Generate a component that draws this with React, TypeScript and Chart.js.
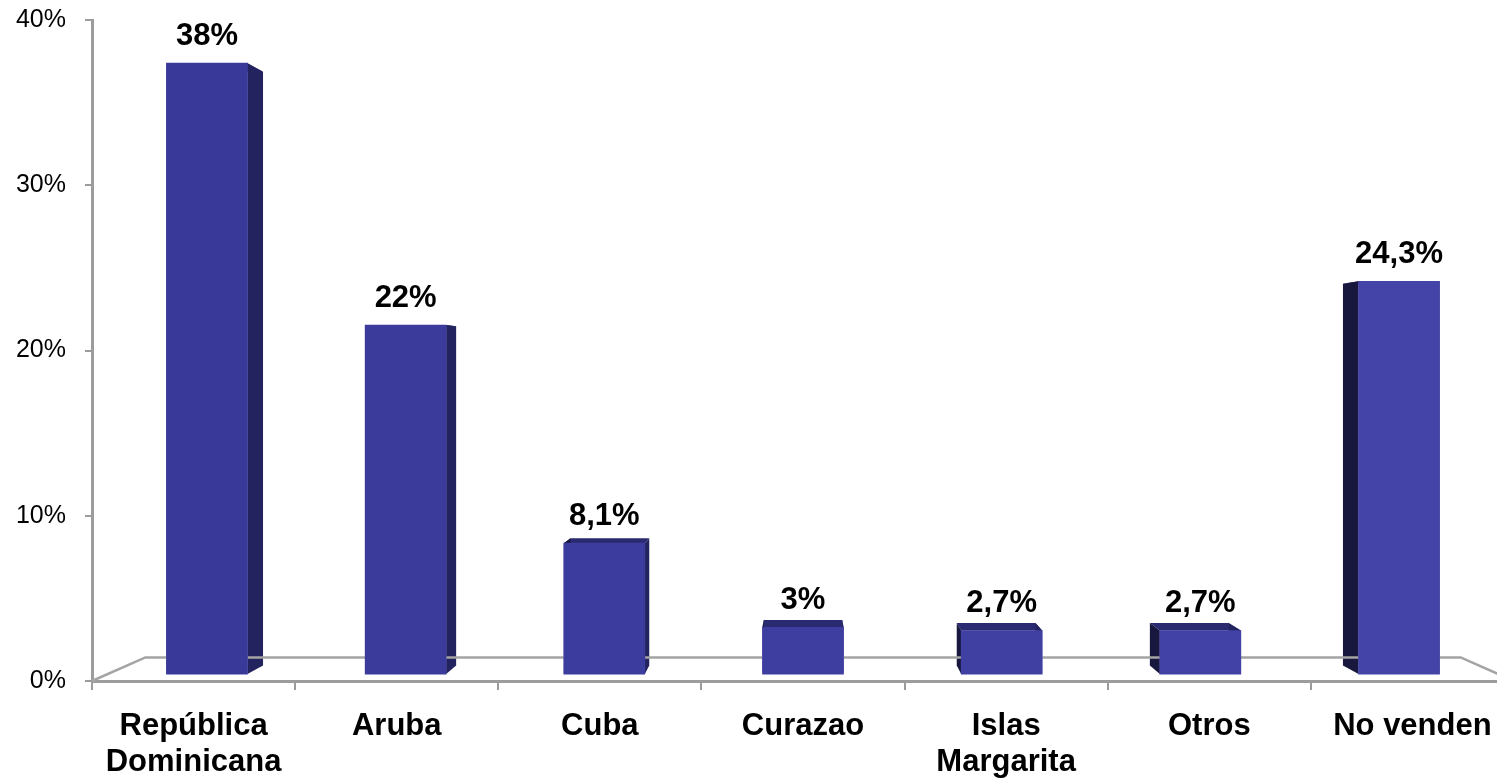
import React, { useEffect, useRef } from 'react';
import { Chart, registerables } from 'chart.js';

Chart.register(...registerables);

// ---------- data ----------
const CATEGORIES: (string | string[])[] = [
  ['República', 'Dominicana'],
  'Aruba',
  'Cuba',
  'Curazao',
  ['Islas', 'Margarita'],
  'Otros',
  'No venden',
];
const VALUES = [37.8, 21.6, 8.1, 2.9, 2.7, 2.7, 24.3];
const VALUE_LABELS = ['38%', '22%', '8,1%', '3%', '2,7%', '2,7%', '24,3%'];
const Y_TICK_LABELS = ['0%', '10%', '20%', '30%', '40%'];
const Y_MIN = 0;
const Y_MAX = 40;
const Y_STEP = 10;

// ---------- layout / style ----------
const FONT = "'Liberation Sans', Arial, Helvetica, sans-serif";
const W = 1530;
const H = 781;
const AREA_LEFT = 92;
const PAD_RIGHT = 16;
const AREA_TOP = 20;
const X_AXIS_H = 100;
const AREA_RIGHT = W - PAD_RIGHT;
const AREA_BOTTOM = H - X_AXIS_H;

// simple perspective: vanishing point at centre of plot, bars sit slightly behind axis plane
const VANISH_Y = 0.525;
const BAR_DEPTH = 0.022;
const BOX_DEPTH = 0.028;
const FLOOR_DEPTH = 0.075;

const AXIS_GREY = '#9c9c9c';

const VX = (AREA_LEFT + AREA_RIGHT) / 2;
const VY = AREA_TOP + VANISH_Y * (AREA_BOTTOM - AREA_TOP);
const N = CATEGORIES.length;
const SLOT = (AREA_RIGHT - AREA_LEFT) / N;
const k = 1 - BAR_DEPTH;

// hidden bar scales = front scales pulled toward vanishing point
const xbAt = (px: number) => (VX + (px - VX) / k - AREA_LEFT) / SLOT - 0.5;
const XB_MIN = xbAt(AREA_LEFT);
const XB_MAX = xbAt(AREA_RIGHT);
const ybAt = (py: number) => {
  const y0 = VY + (py - VY) / k;
  return Y_MIN + ((AREA_BOTTOM - y0) / (AREA_BOTTOM - AREA_TOP)) * (Y_MAX - Y_MIN);
};
const YB_MIN = ybAt(AREA_BOTTOM);
const YB_MAX = ybAt(AREA_TOP);

const frontColor = (i: number) => {
  const t = i / (N - 1);
  const c = (a: number, b: number) => Math.round(a + (b - a) * t);
  return `rgb(${c(57, 67)},${c(57, 67)},${c(153, 168)})`;
};

const poly = (ctx: CanvasRenderingContext2D, pts: number[][], color: string) => {
  ctx.beginPath();
  ctx.moveTo(pts[0][0], pts[0][1]);
  for (let i = 1; i < pts.length; i++) ctx.lineTo(pts[i][0], pts[i][1]);
  ctx.closePath();
  ctx.fillStyle = color;
  ctx.fill();
};

const box3d = {
  id: 'box3d',
  beforeDatasetsDraw(chart: any) {
    const { ctx, chartArea: ca } = chart;
    const vx = (ca.left + ca.right) / 2;
    const vy = ca.top + VANISH_Y * (ca.bottom - ca.top);
    const meta = chart.getDatasetMeta(0);
    ctx.save();
    meta.data.forEach((el: any) => {
      const { x, y, base, width } = el.getProps(['x', 'y', 'base', 'width'], true);
      const l = x - width / 2;
      const r = x + width / 2;
      const t = Math.min(y, base);
      const b = Math.max(y, base);
      const bl = l + (vx - l) * BOX_DEPTH;
      const br = r + (vx - r) * BOX_DEPTH;
      const bt = t + (vy - t) * BOX_DEPTH;
      const bb = b + (vy - b) * BOX_DEPTH;
      poly(ctx, [[l, t], [r, t], [br, bt], [bl, bt]], '#2a2a70');
      poly(ctx, [[l, t], [bl, bt], [bl, bb], [l, b]], '#18183f');
      poly(ctx, [[r, t], [br, bt], [br, bb], [r, b]], '#23235f');
    });
    // floor outline
    const fx = (px: number) => px + (vx - px) * FLOOR_DEPTH;
    const fy = (py: number) => py + (vy - py) * FLOOR_DEPTH;
    const bx0 = fx(ca.left);
    const bx1 = fx(ca.right);
    const byy = fy(ca.bottom);
    ctx.strokeStyle = '#a4a4a4';
    ctx.lineWidth = 2.5;
    ctx.beginPath();
    ctx.moveTo(ca.left, ca.bottom);
    ctx.lineTo(bx0, byy);
    ctx.lineTo(bx1, byy);
    ctx.lineTo(ca.right, ca.bottom);
    ctx.stroke();
    ctx.restore();
  },
  afterDatasetsDraw(chart: any) {
    const { ctx } = chart;
    const meta = chart.getDatasetMeta(0);
    ctx.save();
    ctx.font = `bold 31px ${FONT}`;
    ctx.fillStyle = '#000';
    ctx.textAlign = 'center';
    ctx.textBaseline = 'alphabetic';
    meta.data.forEach((el: any, i: number) => {
      const { x, y } = el.getProps(['x', 'y'], true);
      ctx.fillText(VALUE_LABELS[i], x, y - 18);
    });
    ctx.restore();
  },
};

export default function App() {
  const ref = useRef<HTMLCanvasElement>(null);
  useEffect(() => {
    if (!ref.current) return;
    const chart = new Chart(ref.current, {
      type: 'bar',
      data: {
        labels: CATEGORIES as any,
        datasets: [
          {
            data: VALUES.map((v, i) => ({ x: i, y: v })) as any,
            xAxisID: 'xb',
            yAxisID: 'yb',
            backgroundColor: (c: any) => frontColor(c.dataIndex),
            borderWidth: 0,
            barThickness: 81,
          },
        ],
      },
      options: {
        animation: false,
        responsive: false,
        devicePixelRatio: 1,
        layout: { padding: { top: AREA_TOP, right: PAD_RIGHT, left: 0, bottom: 0 } },
        plugins: { legend: { display: false }, tooltip: { enabled: false } },
        scales: {
          x: {
            type: 'category',
            labels: CATEGORIES as any,
            position: 'bottom',
            offset: true,
            grid: {
              display: true,
              drawOnChartArea: false,
              drawTicks: true,
              tickLength: 9,
              lineWidth: 2,
              color: AXIS_GREY,
              offset: true,
            },
            border: { display: true, color: AXIS_GREY, width: 3 },
            ticks: {
              color: '#000',
              font: { family: FONT, size: 31, weight: 'bold', lineHeight: 1.15 },
              padding: 19,
              maxRotation: 0,
              autoSkip: false,
            },
            afterFit: (s: any) => {
              s.height = X_AXIS_H;
              s.paddingLeft = 0;
              s.paddingRight = 0;
            },
          },
          y: {
            type: 'linear',
            position: 'left',
            min: Y_MIN,
            max: Y_MAX,
            ticks: {
              stepSize: Y_STEP,
              callback: (_v: any, i: number) => Y_TICK_LABELS[i],
              color: '#000',
              font: { family: FONT, size: 25 },
              padding: 19,
            },
            grid: {
              display: true,
              drawOnChartArea: false,
              drawTicks: true,
              tickLength: 7,
              lineWidth: 2,
              color: AXIS_GREY,
            },
            border: { display: true, color: AXIS_GREY, width: 3 },
            afterFit: (s: any) => {
              s.width = AREA_LEFT;
              s.paddingTop = 0;
              s.paddingBottom = 0;
            },
          },
          xb: {
            type: 'linear',
            display: false,
            position: 'bottom',
            offset: false,
            grid: { offset: false },
            min: XB_MIN,
            max: XB_MAX,
          },
          yb: { type: 'linear', display: false, position: 'left', min: YB_MIN, max: YB_MAX },
        },
      } as any,
      plugins: [box3d],
    });
    return () => chart.destroy();
  }, []);

  return (
    <div
      style={{
        position: 'fixed',
        left: 0,
        top: 0,
        width: 1497,
        height: 781,
        overflow: 'hidden',
        background: '#fff',
      }}
    >
      <canvas ref={ref} width={W} height={H} style={{ display: 'block', width: W, height: H }} />
    </div>
  );
}
